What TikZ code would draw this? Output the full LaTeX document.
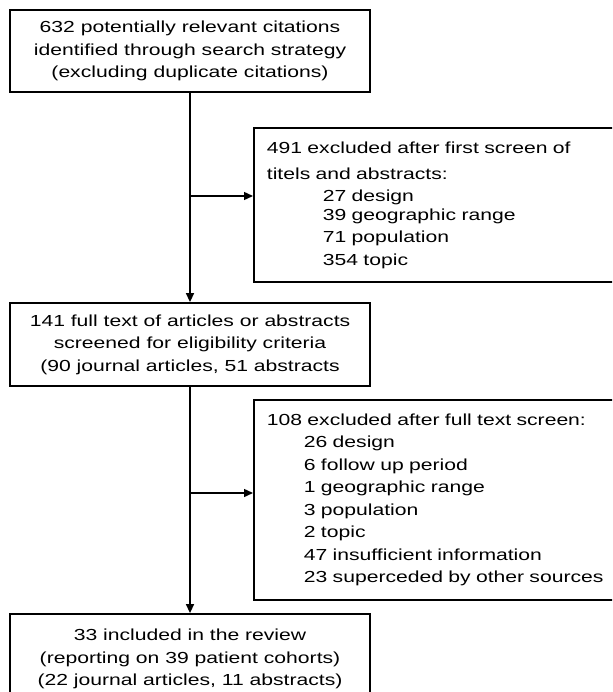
\documentclass[tikz,border=0pt]{standalone}
\usepackage{fontspec}
\setmainfont{Liberation Sans}[FakeStretch=1.32]
\usetikzlibrary{positioning,arrows.meta}

\begin{document}
\begin{tikzpicture}[x=1pt,y=-1pt,
  every node/.style={font=\fontsize{16}{22.5}\selectfont},
  Mainnode/.style={draw,line width=1.8pt,inner sep=0pt,minimum width=360pt,align=center},
  Exclnode/.style={draw,line width=1.8pt,anchor=north west,inner xsep=13pt,inner ysep=0pt,text width=354pt,align=left},
  line width=1.4pt,
  >={Triangle[length=9pt,width=8pt]}
]

\path[use as bounding box,clip] (0,0) rectangle (612,692);

% the stages of the review
\node[Mainnode,minimum height=82pt] (S) at (190,51)
  {632 potentially relevant citations\\identified through search strategy\\(excluding duplicate citations)};
\node[Mainnode,minimum height=83pt] (F) at (190,344.5)
  {141 full text of articles or abstracts\\screened for eligibility criteria\\(90 journal articles, 51 abstracts};
\node[Mainnode,minimum height=90pt] (R) at (190,659)
  {33 included in the review\\(reporting on 39 patient cohorts)\\(22 journal articles, 11 abstracts)};

% the excluded ones
\node[Exclnode,minimum height=154pt] (E1) at (253,127)
  {491 excluded after first screen of\\[3.5pt]
   titels and abstracts:\\[-0.5pt]
   \hspace*{56pt}27 design\\[-3.5pt]
   \hspace*{56pt}39 geographic range\\
   \hspace*{56pt}71 population\\
   \hspace*{56pt}354 topic};
\node[Exclnode,minimum height=200pt] (E2) at (253,399)
  {108 excluded after full text screen:\\
   \hspace*{37pt}26 design\\
   \hspace*{37pt}6 follow up period\\
   \hspace*{37pt}1 geographic range\\
   \hspace*{37pt}3 population\\
   \hspace*{37pt}2 topic\\
   \hspace*{37pt}47 insufficient information\\
   \hspace*{37pt}23 superceded by other sources};

% the edges
\draw[->] (S) -- (F);
\draw[->] (F) -- (R);
\coordinate (j1) at (190,196);
\coordinate (j2) at (190,493);
\draw[->] (j1) -- (j1 -| E1.west);
\draw[->] (j2) -- (j2 -| E2.west);

\end{tikzpicture}
\end{document}
